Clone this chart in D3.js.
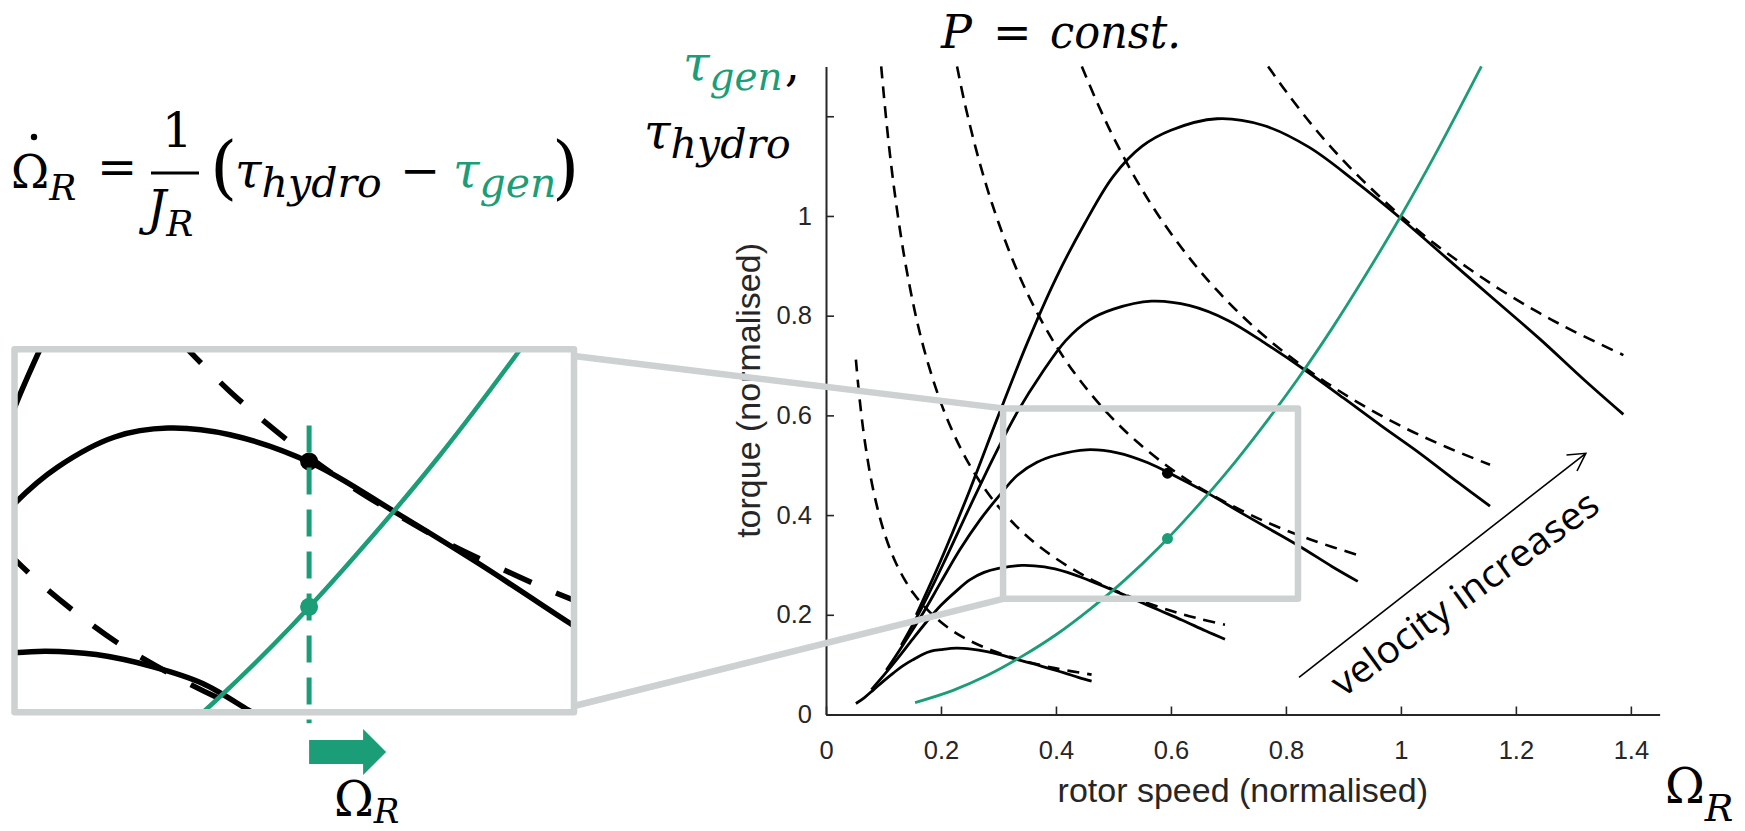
<!DOCTYPE html>
<html>
<head>
<meta charset="utf-8">
<script src="https://cdn.jsdelivr.net/npm/d3@7"></script>
<style>
body { margin: 0; background: #fff; }
svg { display: block; }
</style>
</head>
<body>
<script>
const W = 1745, H = 831;
const green = "#1b9e77", grey = "#cdd1d1", ink = "#262626";

// axes
const omegaDomain = [0, 1.45];
const tauDomain = [0, 1.3];
const omegaTicks = [0, 0.2, 0.4, 0.6, 0.8, 1, 1.2, 1.4];
const tauTicks = [0, 0.2, 0.4, 0.6, 0.8, 1, 1.2];
const tauTickLabels = ["0", "0.2", "0.4", "0.6", "0.8", "1", ""];

// hydrodynamic torque, one curve per flow velocity (rotor speed, torque)
const hydroV1 = [[0.157,0.200],[0.20,0.310],[0.25,0.450],[0.30,0.600],[0.35,0.745],[0.40,0.875],[0.45,0.985],[0.50,1.080],[0.55,1.140],[0.60,1.172],[0.68,1.195],[0.76,1.182],[0.84,1.138],[0.92,1.070],[1.00,0.995],[1.08,0.915],[1.16,0.835],[1.24,0.755],[1.32,0.670],[1.387,0.602]];
const hydroV2 = [[0.131,0.139],[0.167,0.215],[0.208,0.312],[0.250,0.416],[0.292,0.517],[0.333,0.607],[0.375,0.684],[0.417,0.750],[0.458,0.791],[0.500,0.813],[0.566,0.829],[0.633,0.820],[0.700,0.790],[0.766,0.743],[0.833,0.691],[0.900,0.635],[0.966,0.579],[1.033,0.524],[1.100,0.465],[1.155,0.418]];
const hydroV3 = [[0.105,0.089],[0.133,0.138],[0.167,0.200],[0.200,0.266],[0.233,0.331],[0.267,0.389],[0.300,0.437],[0.333,0.480],[0.367,0.506],[0.400,0.520],[0.453,0.531],[0.507,0.525],[0.560,0.505],[0.613,0.475],[0.667,0.442],[0.720,0.406],[0.773,0.371],[0.827,0.335],[0.880,0.297],[0.925,0.267]];
const hydroV4 = [[0.079,0.050],[0.100,0.078],[0.125,0.113],[0.150,0.150],[0.175,0.186],[0.200,0.219],[0.225,0.246],[0.250,0.270],[0.275,0.285],[0.300,0.293],[0.340,0.299],[0.380,0.296],[0.420,0.285],[0.460,0.268],[0.500,0.249],[0.540,0.229],[0.580,0.209],[0.620,0.189],[0.660,0.168],[0.694,0.151]];
const hydroV5 = [[0.052,0.022],[0.067,0.034],[0.083,0.050],[0.100,0.067],[0.117,0.083],[0.133,0.097],[0.150,0.109],[0.167,0.120],[0.183,0.127],[0.200,0.130],[0.227,0.133],[0.253,0.131],[0.280,0.126],[0.306,0.119],[0.333,0.110],[0.360,0.102],[0.386,0.093],[0.413,0.084],[0.440,0.074],[0.462,0.067]];

// constant power lines (dashed)
const powerV1 = [[0.769,1.300],[0.80,1.250],[0.85,1.176],[0.90,1.111],[0.95,1.053],[1.00,1.000],[1.06,0.943],[1.12,0.893],[1.18,0.847],[1.24,0.806],[1.30,0.769],[1.387,0.721]];
const powerV2 = [[0.445,1.300],[0.47,1.232],[0.50,1.158],[0.54,1.072],[0.58,0.998],[0.63,0.919],[0.68,0.851],[0.74,0.782],[0.80,0.724],[0.87,0.666],[0.94,0.616],[1.01,0.573],[1.08,0.536],[1.155,0.501]];
const powerV3 = [[0.228,1.300],[0.24,1.233],[0.26,1.138],[0.28,1.057],[0.30,0.987],[0.33,0.897],[0.36,0.822],[0.40,0.740],[0.44,0.673],[0.49,0.604],[0.54,0.548],[0.60,0.493],[0.66,0.448],[0.72,0.411],[0.78,0.379],[0.85,0.348],[0.925,0.320]];
const powerV4 = [[0.096,1.300],[0.100,1.250],[0.106,1.179],[0.113,1.106],[0.120,1.042],[0.130,0.962],[0.140,0.893],[0.155,0.806],[0.170,0.735],[0.190,0.658],[0.21,0.595],[0.235,0.532],[0.26,0.481],[0.29,0.431],[0.33,0.379],[0.37,0.338],[0.42,0.298],[0.47,0.266],[0.53,0.236],[0.60,0.208],[0.65,0.192],[0.694,0.180]];
const powerV5 = [[0.052,0.712],[0.056,0.661],[0.060,0.617],[0.065,0.569],[0.070,0.529],[0.076,0.487],[0.083,0.446],[0.091,0.407],[0.100,0.370],[0.110,0.336],[0.122,0.303],[0.136,0.272],[0.152,0.243],[0.170,0.218],[0.192,0.193],[0.22,0.168],[0.25,0.148],[0.29,0.128],[0.34,0.109],[0.40,0.0925],[0.462,0.080]];

// generator torque
const genTorque = [[0.155,0.024],[0.22,0.048],[0.28,0.078],[0.34,0.116],[0.40,0.160],[0.46,0.212],[0.52,0.270],[0.58,0.336],[0.64,0.410],[0.70,0.490],[0.76,0.578],[0.82,0.672],[0.88,0.774],[0.94,0.884],[1.00,1.000],[1.06,1.124],[1.14,1.300]];

const operatingHydro = [0.594, 0.484];
const operatingGen = [0.594, 0.353];
const zoomOmega = [0.308, 0.821];
const zoomTau = [0.232, 0.614];

// magnified sketch on the left
const insetOmega = [0.356, 0.808];
const insetTau = [0.258, 0.585];
const insetHydroA = [[0.350,0.438],[0.356,0.446],[0.391,0.479],[0.437,0.506],[0.480,0.514],[0.530,0.508],[0.597,0.482],[0.664,0.438],[0.731,0.392],[0.805,0.338],[0.815,0.331]];
const insetHydroB = [[0.350,0.311],[0.381,0.313],[0.422,0.310],[0.468,0.299],[0.508,0.284],[0.545,0.260],[0.560,0.250]];
const insetHydroC = [[0.350,0.515],[0.3596,0.542],[0.375,0.581],[0.380,0.593]];
const insetPowerA = [[0.490,0.592],[0.502,0.578],[0.53,0.547],[0.56,0.518],[0.594,0.488],[0.63,0.460],[0.67,0.433],[0.71,0.408],[0.75,0.387],[0.79,0.367],[0.815,0.356]];
const insetPowerB = [[0.350,0.403],[0.356,0.396],[0.38,0.371],[0.41,0.344],[0.44,0.320],[0.47,0.300],[0.50,0.282],[0.53,0.266],[0.56,0.252]];

const hydroCurves = [hydroV1, hydroV2, hydroV3, hydroV4, hydroV5];
const powerCurves = [powerV1, powerV2, powerV3, powerV4, powerV5];

const svg = d3.select("body").append("svg").attr("width", W).attr("height", H);
svg.append("rect").attr("width", W).attr("height", H).attr("fill", "#fff");

const x = d3.scaleLinear().domain(omegaDomain).range([826, 1659.6]);
const y = d3.scaleLinear().domain(tauDomain).range([714.5, 66.4]);
const line = d3.line().x(d => x(d[0])).y(d => y(d[1])).curve(d3.curveCatmullRom.alpha(0.5));

// axes
const xAxis = svg.append("g").attr("transform", "translate(0," + y(0) + ")")
	.call(d3.axisBottom(x).tickValues(omegaTicks).tickFormat(d3.format("~g"))
		.tickSizeInner(-8).tickSizeOuter(0).tickPadding(26));
const yAxis = svg.append("g").attr("transform", "translate(" + x(0) + ",0)")
	.call(d3.axisLeft(y).tickValues(tauTicks).tickFormat((d, i) => tauTickLabels[i])
		.tickSizeInner(-8).tickSizeOuter(0).tickPadding(14));
[xAxis, yAxis].forEach(g => {
	g.select(".domain").attr("stroke", ink).attr("stroke-width", 2);
	g.selectAll(".tick line").attr("stroke", ink).attr("stroke-width", 1.6);
	g.selectAll(".tick text").attr("fill", ink)
		.style("font-family", "'Liberation Sans', Arial, sans-serif").style("font-size", "25.5px");
});

const xMid = (x.range()[0] + x.range()[1]) / 2;
const yMid = (y.range()[0] + y.range()[1]) / 2;
svg.append("text").attr("x", xMid).attr("y", 802).attr("text-anchor", "middle")
	.attr("fill", ink).style("font-family", "'Liberation Sans', Arial, sans-serif").style("font-size", "34px")
	.text("rotor speed (normalised)");
svg.append("text").attr("transform", "translate(760," + yMid + ") rotate(-90)").attr("text-anchor", "middle")
	.attr("fill", ink).style("font-family", "'Liberation Sans', Arial, sans-serif").style("font-size", "34px")
	.text("torque (normalised)");

// curves
const plot = svg.append("g");
powerCurves.forEach(c => {
	plot.append("path").attr("d", line(c)).attr("fill", "none").attr("stroke", "#000")
		.attr("stroke-width", 2.6).attr("stroke-dasharray", "12,8");
});
hydroCurves.forEach(c => {
	plot.append("path").attr("d", line(c)).attr("fill", "none").attr("stroke", "#000")
		.attr("stroke-width", 2.8);
});
plot.append("path").attr("d", line(genTorque)).attr("fill", "none").attr("stroke", green).attr("stroke-width", 2.8);
plot.append("circle").attr("cx", x(operatingHydro[0])).attr("cy", y(operatingHydro[1])).attr("r", 5.5).attr("fill", "#000");
plot.append("circle").attr("cx", x(operatingGen[0])).attr("cy", y(operatingGen[1])).attr("r", 5.5).attr("fill", green);

// inset box
const box = {x0: 14.5, y0: 349.3, x1: 574, y1: 712.3};
const ix = d3.scaleLinear().domain(insetOmega).range([box.x0, box.x1]);
const iy = d3.scaleLinear().domain(insetTau).range([box.y1, box.y0]);
const iline = d3.line().x(d => ix(d[0])).y(d => iy(d[1])).curve(d3.curveCatmullRom.alpha(0.5));

// zoom rectangle and connectors
svg.append("line").attr("x1", box.x1).attr("y1", 356).attr("x2", x(zoomOmega[0])).attr("y2", y(zoomTau[1]))
	.attr("stroke", grey).attr("stroke-width", 6.5).attr("stroke-linecap", "round");
svg.append("line").attr("x1", box.x1).attr("y1", 706).attr("x2", x(zoomOmega[0])).attr("y2", y(zoomTau[0]))
	.attr("stroke", grey).attr("stroke-width", 6.5).attr("stroke-linecap", "round");
svg.append("rect").attr("x", x(zoomOmega[0])).attr("y", y(zoomTau[1]))
	.attr("width", x(zoomOmega[1]) - x(zoomOmega[0])).attr("height", y(zoomTau[0]) - y(zoomTau[1]))
	.attr("fill", "none").attr("stroke", grey).attr("stroke-width", 6.5).attr("stroke-linejoin", "round");

svg.append("clipPath").attr("id", "insetClip").append("rect")
	.attr("x", box.x0).attr("y", box.y0).attr("width", box.x1 - box.x0).attr("height", box.y1 - box.y0);
const inset = svg.append("g").attr("clip-path", "url(#insetClip)");
inset.append("rect").attr("x", box.x0).attr("y", box.y0).attr("width", box.x1 - box.x0).attr("height", box.y1 - box.y0).attr("fill", "#fff");
[insetPowerA, insetPowerB].forEach(c => {
	inset.append("path").attr("d", iline(c)).attr("fill", "none").attr("stroke", "#000")
		.attr("stroke-width", 5.5).attr("stroke-dasharray", "30,27");
});
[insetHydroA, insetHydroB, insetHydroC].forEach(c => {
	inset.append("path").attr("d", iline(c)).attr("fill", "none").attr("stroke", "#000").attr("stroke-width", 5.5);
});
inset.append("path").attr("d", iline(genTorque)).attr("fill", "none").attr("stroke", green).attr("stroke-width", 4.5);
inset.append("circle").attr("cx", ix(operatingHydro[0])).attr("cy", iy(operatingHydro[1])).attr("r", 9).attr("fill", "#000");

const opX = ix(operatingHydro[0]);
svg.append("line").attr("x1", opX).attr("x2", opX).attr("y1", iy(operatingHydro[1]) - 36).attr("y2", box.y1 + 11)
	.attr("stroke", green).attr("stroke-width", 5).attr("stroke-dasharray", "27,15");
svg.append("circle").attr("cx", opX).attr("cy", iy(operatingGen[1])).attr("r", 9).attr("fill", green);
svg.append("rect").attr("x", box.x0).attr("y", box.y0).attr("width", box.x1 - box.x0).attr("height", box.y1 - box.y0)
	.attr("fill", "none").attr("stroke", grey).attr("stroke-width", 6.5).attr("stroke-linejoin", "round");

// block arrow: rotor speed goes up
svg.append("path").attr("fill", green)
	.attr("d", `M${opX},740 H${opX + 54} V729 L${opX + 77},752 L${opX + 54},775 V764 H${opX} Z`);

// text
const serif = "'DejaVu Serif', serif";
function mtext(s, px, py, size, opts) {
	opts = opts || {};
	const t = svg.append("text").attr("x", px).attr("y", py)
		.attr("fill", opts.fill || "#000")
		.style("font-family", serif).style("font-size", size + "px")
		.style("font-style", opts.upright ? "normal" : "italic")
		.text(s);
	if (opts.len) t.attr("textLength", opts.len).attr("lengthAdjust", "spacingAndGlyphs");
	return t;
}
// symbol with subscript, kept as one text element
function subtext(base, sub, px, py, size, subSize, drop, opts) {
	opts = opts || {};
	const t = svg.append("text").attr("x", px).attr("y", py)
		.attr("fill", opts.fill || "#000")
		.style("font-family", serif).style("font-size", size + "px");
	t.append("tspan").style("font-style", opts.upright ? "normal" : "italic").text(base);
	t.append("tspan").attr("dy", drop).style("font-style", "italic").style("font-size", subSize + "px").text(sub);
	return t;
}

// title
mtext("P", 941, 48, 46);
mtext("=", 993, 48, 46, {upright: true});
mtext("const.", 1050, 48, 46, {len: 131});

// y-axis math label
const genLabel = subtext("τ", "gen", 683, 80, 48, 39, 10, {fill: green});
genLabel.append("tspan").attr("dy", -10).attr("dx", 2).attr("fill", "#000").style("font-style", "normal").text(",");
subtext("τ", "hydro", 644, 148, 48, 41, 10);

// x-axis math label
subtext("Ω", "R", 1665, 803, 48, 38, 18, {upright: true});

// equation
subtext("Ω", "R", 11, 188, 46, 36, 12, {upright: true});
svg.append("circle").attr("cx", 34).attr("cy", 137).attr("r", 3.2).attr("fill", "#000");
mtext("=", 97, 184, 48, {upright: true});
mtext("1", 162, 147, 48, {upright: true});
svg.append("line").attr("x1", 151).attr("x2", 199).attr("y1", 173).attr("y2", 173).attr("stroke", "#000").attr("stroke-width", 3);
subtext("J", "R", 147, 225, 48, 36, 11);
mtext("(", 210, 191, 70, {upright: true});
subtext("τ", "hydro", 235, 187, 48, 41, 10);
mtext("−", 400, 187, 48, {upright: true});
subtext("τ", "gen", 453, 187, 48, 41, 10, {fill: green});
mtext(")", 552, 191, 70, {upright: true});

// inset speed label
subtext("Ω", "R", 334, 816, 48, 34, 7, {upright: true});

// velocity annotation
const tail = [1299, 677.3], tip = [1585.8, 453.3];
svg.append("line").attr("x1", tail[0]).attr("y1", tail[1]).attr("x2", tip[0]).attr("y2", tip[1])
	.attr("stroke", "#000").attr("stroke-width", 1.6);
svg.append("path").attr("d", `M1566.5,455 L${tip[0]},${tip[1]} L1577,471`)
	.attr("fill", "none").attr("stroke", "#000").attr("stroke-width", 1.6);
svg.append("text").attr("transform", "translate(1343,698) rotate(-36)")
	.style("font-family", "'Open Sans', sans-serif").style("font-size", "38px")
	.attr("fill", "#000").attr("textLength", 320).attr("lengthAdjust", "spacingAndGlyphs")
	.text("velocity increases");
</script>
</body>
</html>
